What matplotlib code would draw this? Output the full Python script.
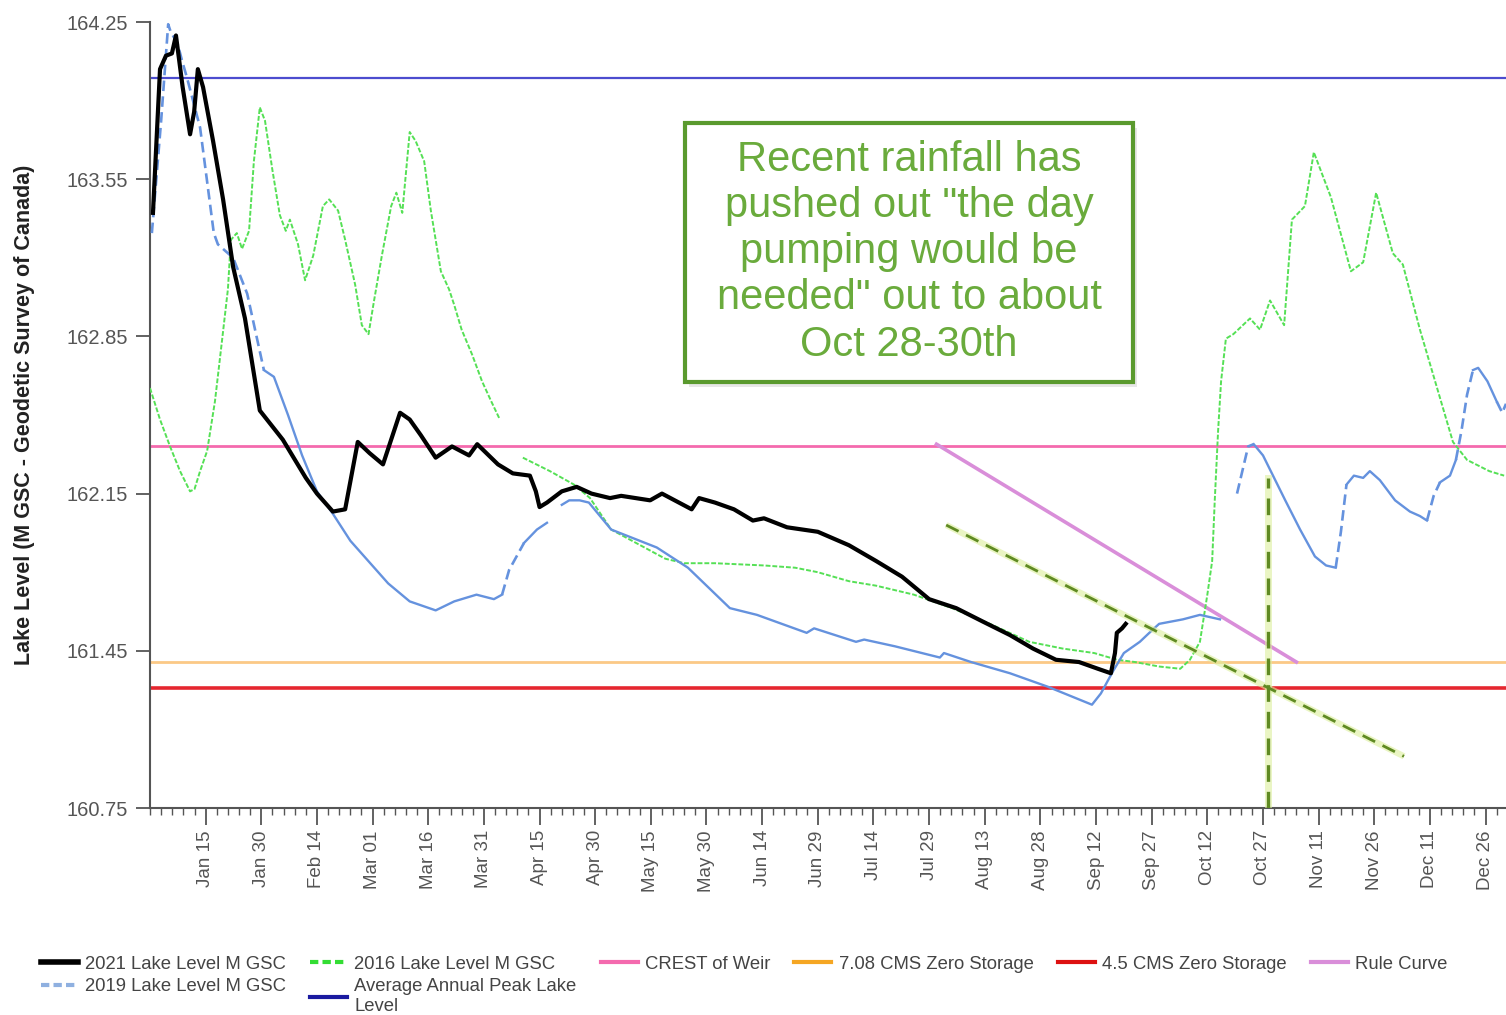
import matplotlib
matplotlib.use('Agg')
import matplotlib.pyplot as plt
from matplotlib.ticker import MultipleLocator, FixedLocator
from matplotlib.patches import Rectangle
from matplotlib.lines import Line2D
import numpy as np

nan = np.nan

# day of year (1 = Jan 1) and lake level in m GSC
days_2021 = [0.8, 2.7, 4.3, 5.9, 7.0, 8.8, 10.8, 11.9, 12.9, 14.3, 17.0, 19.7, 22.4, 25.6, 29.6,
             35.8, 42.0, 45.0, 49.3, 52.6, 56.0, 59.2, 62.8, 67.4, 70.0, 73.0, 77.0, 81.4, 86.0,
             88.2, 93.8, 97.8, 102.4, 104.0, 105.0, 107.0, 111.0, 115.0, 119.0, 124.0, 127.0,
             134.8, 138.0, 146.0, 148.0, 152.3, 157.4, 162.5, 165.5, 171.7, 180.0, 188.4, 195.7,
             202.7, 210.0, 217.3, 224.5, 231.8, 238.0, 244.2, 250.4, 255.5, 259.0, 260.1, 260.6,
             262.0, 263.0]
lvl_2021 = [163.40, 164.04, 164.10, 164.11, 164.19, 163.96, 163.75, 163.85, 164.04, 163.96, 163.72,
            163.46, 163.16, 162.93, 162.52, 162.39, 162.22, 162.15, 162.07, 162.08, 162.38, 162.33,
            162.28, 162.51, 162.48, 162.41, 162.31, 162.36, 162.32, 162.37, 162.28, 162.24, 162.23,
            162.16, 162.09, 162.11, 162.16, 162.18, 162.15, 162.13, 162.14, 162.12, 162.15, 162.08,
            162.13, 162.11, 162.08, 162.03, 162.04, 162.00, 161.98, 161.92, 161.85, 161.78, 161.68,
            161.64, 161.58, 161.52, 161.46, 161.41, 161.40, 161.37, 161.35, 161.44, 161.53, 161.55,
            161.57]

days_2019 = [0.5, 3.0, 4.9, 5.5, 7.5, 8.6, 10.0, 13.5, 17.2, 18.3, 22.4, 26.2, 30.7, 33.4, 37.2,
             41.0, 45.0, 49.3, 54.0, 64.2, 70.0, 77.0, 82.0, 88.0, 92.7, 94.9, 96.8, 100.8, 104.3,
             107.0, nan,
             111.0, 113.0, 115.8, 118.3, 124.3, 136.6, 145.0, 156.3, 163.6, 177.0, 179.0, 190.3,
             192.5, 200.8, 212.9, 214.0, 221.3, 231.8, 242.0, 253.9, 256.3, 259.6, 262.5, 266.8,
             270.0, 272.0, 278.4, 283.0, 288.4, nan,
             293.0, 296.0, 297.5, 300.0, 306.0, 310.0, 314.0, 317.0, 319.6, 321.0, 322.5, 324.5,
             327.0, 328.8, 331.5, 335.6, 339.6, 342.3, 344.2, 346.0, 347.7, 350.4, 352.0, 353.5,
             355.0, 356.6, 358.0, 360.5, 363.0, 364.5, 365.5]
lvl_2019 = [163.31, 163.81, 164.24, 164.21, 164.15, 164.08, 164.00, 163.78, 163.31, 163.26, 163.20,
            163.04, 162.70, 162.67, 162.50, 162.32, 162.16, 162.06, 161.94, 161.75, 161.67, 161.63,
            161.67, 161.70, 161.68, 161.70, 161.81, 161.93, 161.99, 162.02, nan,
            162.10, 162.12, 162.12, 162.11, 161.99, 161.91, 161.82, 161.64, 161.61, 161.53, 161.55,
            161.49, 161.50, 161.47, 161.42, 161.44, 161.40, 161.35, 161.29, 161.21, 161.26, 161.36,
            161.44, 161.49, 161.54, 161.57, 161.59, 161.61, 161.59, nan,
            162.15, 162.36, 162.37, 162.32, 162.12, 161.99, 161.87, 161.83, 161.82, 161.98, 162.19,
            162.23, 162.22, 162.25, 162.21, 162.12, 162.07, 162.05, 162.03, 162.14, 162.20, 162.23,
            162.30, 162.43, 162.59, 162.70, 162.71, 162.65, 162.56, 162.51, 162.55]
dashed_2019 = [(0, 30.7), (94.9, 100.8), (293.0, 297.5), (319.6, 322.5), (344.2, 347.7),
               (352.0, 356.6), (363.0, 366)]

days_2016 = [0.0, 2.7, 5.4, 8.1, 10.8, 12.0, 13.5, 15.4, 17.5, 19.4, 21.0, 21.8, 23.4, 24.8, 26.7,
             28.0, 29.6, 31.0, 33.0, 35.0, 36.6, 37.7, 39.9, 41.8, 44.0, 46.6, 48.3, 50.7, 52.6,
             55.3, 57.1, 58.9, 60.4, 62.5, 65.0, 66.4, 68.0, 70.0, 71.6, 73.9, 75.7, 78.4, 80.6,
             82.0, 84.0, 86.8, 89.5, 92.0, 94.3, nan,
             100.5, 107.8, 114.3, 118.6, 124.3, 138.9, 144.0, 152.3, 165.5, 173.9, 180.0, 188.4,
             195.7, 205.9, 216.2, 226.4, 237.0, 246.0, 254.5, 260.7, 265.5, 272.0, 277.7, 280.3,
             283.0, 285.0, 286.3, 287.0, 287.9, 288.7, 290.0, 292.0, 296.5, 299.2, 301.9, 305.7,
             307.8, 311.3, 313.7, 318.3, 323.7, 327.0, 330.5, 335.0, 337.7, 342.3, 351.2, 355.0,
             361.0, 365.0]
lvl_2016 = [162.62, 162.48, 162.36, 162.25, 162.16, 162.17, 162.25, 162.34, 162.56, 162.83, 163.06,
            163.28, 163.31, 163.24, 163.32, 163.63, 163.87, 163.81, 163.59, 163.39, 163.32, 163.37,
            163.26, 163.10, 163.21, 163.43, 163.46, 163.41, 163.28, 163.08, 162.90, 162.86, 163.01,
            163.21, 163.43, 163.49, 163.40, 163.76, 163.72, 163.63, 163.41, 163.14, 163.06, 162.99,
            162.88, 162.77, 162.65, 162.56, 162.48, nan,
            162.31, 162.25, 162.19, 162.13, 161.99, 161.86, 161.84, 161.84, 161.83, 161.82, 161.80,
            161.76, 161.74, 161.70, 161.64, 161.57, 161.49, 161.46, 161.44, 161.41, 161.40, 161.38,
            161.37, 161.41, 161.49, 161.70, 161.85, 162.12, 162.43, 162.65, 162.84, 162.86, 162.93,
            162.88, 163.01, 162.90, 163.37, 163.43, 163.67, 163.47, 163.14, 163.18, 163.49, 163.22,
            163.17, 162.88, 162.38, 162.30, 162.25, 162.23]

avg_peak = 164.00
crest_weir = 162.36
zero_708 = 161.40
zero_45 = 161.285

rule_days = [212, 309]
rule_lvl = [162.37, 161.40]

trend_days = [214.6, 338]
trend_lvl = [162.01, 160.98]
pump_day = 301.3
pump_lvl = [160.75, 162.22]

tick_days = [15, 30, 45, 60, 75, 90, 105, 120, 135, 150, 165, 180, 195, 210, 225, 240, 255, 270,
             285, 300, 315, 330, 345, 360]
tick_labels = ['Jan 15', 'Jan 30', 'Feb 14', 'Mar 01', 'Mar 16', 'Mar 31', 'Apr 15', 'Apr 30',
               'May 15', 'May 30', 'Jun 14', 'Jun 29', 'Jul 14', 'Jul 29', 'Aug 13', 'Aug 28',
               'Sep 12', 'Sep 27', 'Oct 12', 'Oct 27', 'Nov 11', 'Nov 26', 'Dec 11', 'Dec 26']
y_ticks = [160.75, 161.45, 162.15, 162.85, 163.55, 164.25]

note = 'Recent rainfall has\npushed out "the day\npumping would be\nneeded" out to about\nOct 28-30th'

plt.rcParams['font.family'] = ['Liberation Sans', 'DejaVu Sans']

c2021 = 'black'
c2019 = '#6592de'
c2016 = '#55e055'
c_avg = '#4c4ccf'
c_crest = '#f46aae'
c_708 = '#fbc986'
c_45 = '#e5262f'
c_rule = '#d98ed9'
c_note = '#6aab3c'

fig = plt.figure(figsize=(15.06, 10.15), dpi=100)
ax = fig.add_axes([150 / 1506, 1 - 808 / 1015, 1356 / 1506, 786 / 1015])

ax.axhline(avg_peak, color=c_avg, lw=1.6, zorder=2)
ax.axhline(crest_weir, color=c_crest, lw=2.0, zorder=2)
ax.axhline(zero_708, color=c_708, lw=2.0, zorder=2)
ax.axhline(zero_45, color=c_45, lw=2.6, zorder=2)

ax.plot(rule_days, rule_lvl, color=c_rule, lw=2.6, zorder=3)

ax.plot(days_2016, lvl_2016, color=c2016, lw=1.4, ls=(0, (2.5, 1)), zorder=4)

d19 = np.array(days_2019)
v19 = np.array(lvl_2019)
in_open = np.zeros(len(d19), bool)
in_closed = np.zeros(len(d19), bool)
for a, b in dashed_2019:
    in_open |= (d19 > a) & (d19 < b)
    in_closed |= (d19 >= a) & (d19 <= b)
ax.plot(d19, np.where(in_open, nan, v19), color=c2019, lw=1.7, zorder=5)
ax.plot(d19, np.where(in_closed, v19, nan), color=c2019, lw=1.9, ls=(0, (4, 2)), zorder=5)

ax.plot(days_2021, lvl_2021, color=c2021, lw=3.0, zorder=6)

# annotation lines with soft glow
ax.plot(trend_days, trend_lvl, color='#dcef9c', lw=4.5, alpha=0.6, zorder=6, solid_capstyle='butt')
ax.plot(trend_days, trend_lvl, color='#5f8a22', lw=2.0, ls=(0, (5, 3)), zorder=7)
ax.plot([pump_day, pump_day], pump_lvl, color='#dcef9c', lw=5, alpha=0.6, zorder=6)
ax.plot([pump_day, pump_day], pump_lvl, color='#5f8a22', lw=2.4, ls=(0, (5, 3)), zorder=7)

# note box
ax.add_patch(Rectangle((0.3975, 0.536), 0.3305, 0.3295, transform=ax.transAxes,
                       facecolor='#bbbbbb', edgecolor='none', alpha=0.35, zorder=8))
ax.add_patch(Rectangle((0.3945, 0.542), 0.3305, 0.3295, transform=ax.transAxes,
                       facecolor='white', edgecolor='#5a9a2e', lw=3, zorder=9))
ax.text(0.5597, 0.707, note, transform=ax.transAxes, ha='center', va='center',
        fontsize=30, color=c_note, linespacing=1.2, zorder=10)

ax.set_xlim(0, 365.5)
ax.set_ylim(160.75, 164.25)
ax.xaxis.set_major_locator(FixedLocator(tick_days))
ax.xaxis.set_minor_locator(MultipleLocator(3))
ax.set_xticklabels(tick_labels, rotation=90)
ax.set_yticks(y_ticks)
ax.set_yticklabels(['%.2f' % v for v in y_ticks])
ax.tick_params(axis='both', which='major', labelcolor='#555555', color='#555555', width=1.3)
ax.tick_params(axis='x', which='major', length=12, pad=4, labelsize=13.5)
ax.tick_params(axis='x', which='minor', length=5, color='#555555', width=1.0)
ax.tick_params(axis='y', which='major', length=10, pad=6, labelsize=14.5)
for s in ['top', 'right']:
    ax.spines[s].set_visible(False)
for s in ['left', 'bottom']:
    ax.spines[s].set_color('#555555')
    ax.spines[s].set_linewidth(1.5)

fig.text(25 / 1506, 1 - 415 / 1015, 'Lake Level (M GSC - Geodetic Survey of Canada)',
         rotation=90, ha='center', va='center', fontsize=15.5, fontweight='bold', color='#222222')

handles = [Line2D([], [], color=c2021, lw=4),
           Line2D([], [], color='#8fb0e0', lw=3, ls=(0, (2, 1))),
           Line2D([], [], color='#33dd33', lw=3, ls=(0, (2, 1))),
           Line2D([], [], color='#1a1aa0', lw=3),
           Line2D([], [], color=c_crest, lw=3),
           Line2D([], [], color='#f5a623', lw=3),
           Line2D([], [], color='#dd1111', lw=3),
           Line2D([], [], color=c_rule, lw=3)]
labels = ['2021 Lake Level M GSC', '2019 Lake Level M GSC', '2016 Lake Level M GSC',
          'Average Annual Peak Lake\nLevel', 'CREST of Weir', '7.08 CMS Zero Storage',
          '4.5 CMS Zero Storage', 'Rule Curve']
fig.legend(handles, labels, loc='upper left', bbox_to_anchor=(0.016, 1 - 939 / 1015), ncol=6,
           frameon=False, fontsize=13.3, handlelength=2.0, handletextpad=0.4,
           columnspacing=1.3, labelcolor='#444444', labelspacing=0.3)

fig.savefig('out.png', dpi=100)
